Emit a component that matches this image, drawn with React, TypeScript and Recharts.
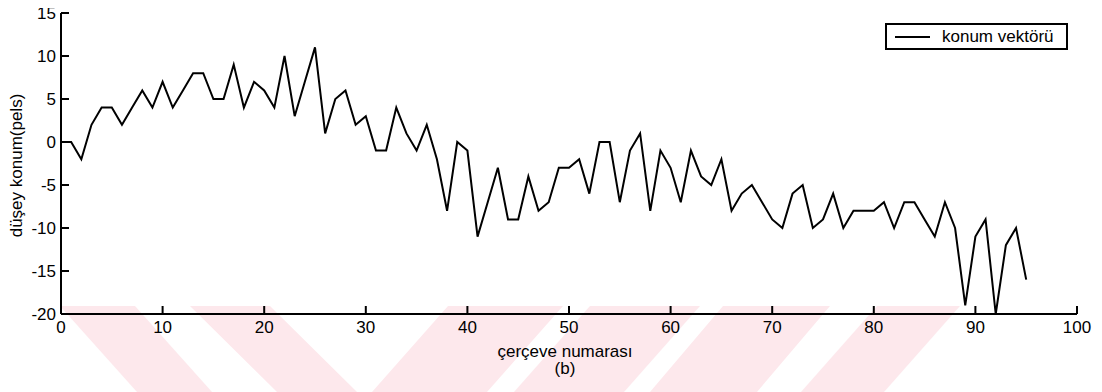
import React from 'react';
import { LineChart, Line, XAxis, YAxis, Legend, Label } from 'recharts';

const frames = [
  0, 1, 2, 3, 4, 5, 6, 7, 8, 9, 10, 11, 12, 13, 14, 15, 16, 17, 18, 19,
  20, 21, 22, 23, 24, 25, 26, 27, 28, 29, 30, 31, 32, 33, 34, 35, 36, 37, 38, 39,
  40, 41, 42, 43, 44, 45, 46, 47, 48, 49, 50, 51, 52, 53, 54, 55, 56, 57, 58, 59,
  60, 61, 62, 63, 64, 65, 66, 67, 68, 69, 70, 71, 72, 73, 74, 75, 76, 77, 78, 79,
  80, 81, 82, 83, 84, 85, 86, 87, 88, 89, 90, 91, 92, 93, 94, 95,
];

const positions = [
  0, 0, -2, 2, 4, 4, 2, 4, 6, 4, 7, 4, 6, 8, 8, 5, 5, 9, 4, 7,
  6, 4, 10, 3, 7, 11, 1, 5, 6, 2, 3, -1, -1, 4, 1, -1, 2, -2, -8, 0,
  -1, -11, -7, -3, -9, -9, -4, -8, -7, -3, -3, -2, -6, 0, 0, -7, -1, 1, -8, -1,
  -3, -7, -1, -4, -5, -2, -8, -6, -5, -7, -9, -10, -6, -5, -10, -9, -6, -10, -8, -8,
  -8, -7, -10, -7, -7, -9, -11, -7, -10, -19, -11, -9, -20, -12, -10, -16,
];

const xTicks = [0, 10, 20, 30, 40, 50, 60, 70, 80, 90, 100];
const yTicks = [-20, -15, -10, -5, 0, 5, 10, 15];

const seriesName = 'konum vektörü';
const xAxisTitle = 'çerçeve numarası';
const xAxisSubTitle = '(b)';
const yAxisTitle = 'düşey konum(pels)';

const data = frames.map((f, i) => ({ frame: f, pos: positions[i] }));

const FONT = '"Liberation Sans", Arial, Helvetica, sans-serif';
const FS = 17;
const TICK_LEN = 8;
const TICK_COLOR = '#000';

const XTick = (props: any) => {
  const { x, y, payload } = props;
  return (
    <g>
      <rect x={x - 1} y={y - TICK_LEN} width={2} height={TICK_LEN} fill={TICK_COLOR} />
      <text x={x} y={y + 19} textAnchor="middle" fontSize={FS} fontFamily={FONT} fill="#000">
        {payload.value}
      </text>
    </g>
  );
};

const YTick = (props: any) => {
  const { x, y, payload } = props;
  return (
    <g>
      <rect x={x} y={y - 1} width={TICK_LEN} height={2} fill={TICK_COLOR} />
      <text x={x - 5} y={y + 6} textAnchor="end" fontSize={FS} fontFamily={FONT} fill="#000">
        {payload.value}
      </text>
    </g>
  );
};

const XTitle = (props: any) => {
  const vb = props.viewBox || { x: 61, y: 314, width: 1016, height: 74 };
  const cx = vb.x + vb.width / 2 - 4;
  return (
    <g>
      <text x={cx} y={vb.y + 43} textAnchor="middle" fontSize={FS} fontFamily={FONT} fill="#000">
        {xAxisTitle}
      </text>
      <text x={cx} y={vb.y + 60} textAnchor="middle" fontSize={FS} fontFamily={FONT} fill="#000">
        {xAxisSubTitle}
      </text>
    </g>
  );
};

const YTitle = (props: any) => {
  const vb = props.viewBox || { x: 8, y: 13, width: 53, height: 301 };
  const cy = vb.y + vb.height / 2 + 2;
  const cx = 22;
  return (
    <text
      x={cx}
      y={cy}
      transform={`rotate(-90, ${cx}, ${cy})`}
      textAnchor="middle"
      fontSize={FS}
      fontFamily={FONT}
      fill="#000"
    >
      {yAxisTitle}
    </text>
  );
};

const LegendBox = () => (
  <div
    style={{
      boxSizing: 'border-box',
      width: 183,
      height: 27,
      border: '2px solid #000',
      background: '#fff',
      display: 'flex',
      alignItems: 'center',
      fontFamily: FONT,
      fontSize: FS,
      color: '#000',
      lineHeight: 1,
    }}
  >
    <div style={{ width: 35, height: 0, borderTop: '2px solid #000', marginLeft: 8, marginRight: 12 }} />
    <span>{seriesName}</span>
  </div>
);

const WM = '#fde8ec';
const watermark: number[][][] = [
  [[60, 306], [135, 306], [212, 392], [137, 392]],
  [[190, 306], [270, 306], [357, 392], [277, 392]],
  [[448, 306], [563, 306], [487, 392], [372, 392]],
  [[590, 306], [700, 306], [624, 392], [514, 392]],
  [[723, 306], [830, 306], [757, 392], [650, 392]],
  [[877, 306], [960, 306], [884, 392], [801, 392]],
];

export default function App() {
  return (
    <div style={{ position: 'relative', left: -8, top: -8, width: 1102, height: 392 }}>
      <svg
        width={1102}
        height={392}
        style={{ position: 'absolute', left: 0, top: 0, zIndex: 0 }}
      >
        {watermark.map((poly, i) => (
          <polygon key={i} points={poly.map((p) => p.join(',')).join(' ')} fill={WM} />
        ))}
      </svg>
      <div style={{ position: 'absolute', left: 0, top: 0, zIndex: 1 }}>
        <LineChart
          width={1102}
          height={392}
          data={data}
          margin={{ top: 13, right: 25, left: 8, bottom: 4 }}
        >
          <XAxis
            dataKey="frame"
            type="number"
            domain={[0, 100]}
            ticks={xTicks}
            interval={0}
            tickSize={0}
            tickMargin={0}
            tickLine={false}
            tick={<XTick />}
            axisLine={{ stroke: '#000', strokeWidth: 2 }}
            height={74}
            label={<Label content={<XTitle />} />}
          />
          <YAxis
            type="number"
            domain={[-20, 15]}
            ticks={yTicks}
            interval={0}
            tickSize={0}
            tickMargin={0}
            tickLine={false}
            tick={<YTick />}
            axisLine={{ stroke: '#000', strokeWidth: 2 }}
            width={53}
            label={<Label content={<YTitle />} />}
          />
          <Legend
            layout="horizontal"
            verticalAlign="middle"
            align="center"
            content={<LegendBox />}
            wrapperStyle={{ position: 'absolute', left: 885, top: 23, width: 183, height: 27 }}
          />
          <Line
            type="linear"
            dataKey="pos"
            name={seriesName}
            stroke="#000"
            strokeWidth={2}
            dot={false}
            activeDot={false}
            isAnimationActive={false}
          />
        </LineChart>
      </div>
    </div>
  );
}
